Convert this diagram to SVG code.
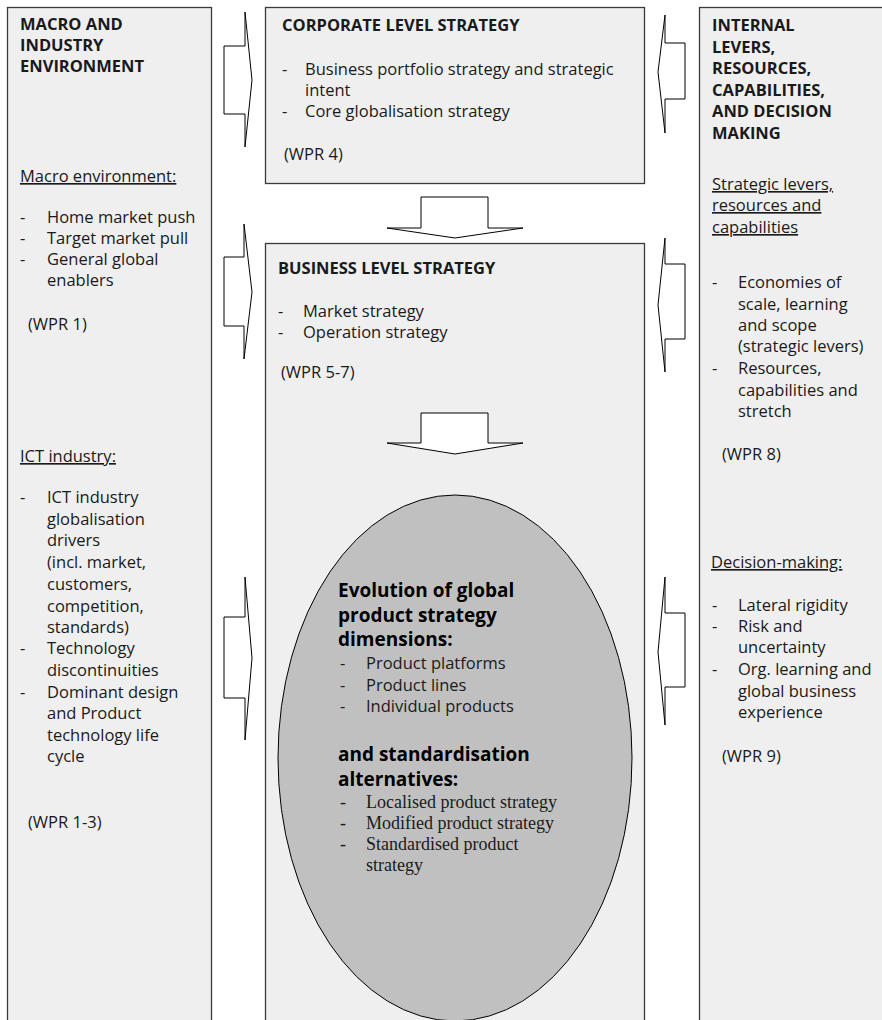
<svg xmlns="http://www.w3.org/2000/svg" width="882" height="1020" viewBox="0 0 882 1020">
  <style>
    .box { fill: #efefef; stroke: #3a3a3a; stroke-width: 1.3; }
    .oval { fill: #c0c0c0; stroke: #000; stroke-width: 1; }
    .arrow { fill: #fff; stroke: #000; stroke-width: 1; stroke-linejoin: miter; }
    text { font-family: "Open Sans", "Liberation Sans", sans-serif; font-size: 16.5px; fill: #1a1a1a; }
    .b { font-weight: bold; }
    .u { text-decoration: underline; }
    .big { font-size: 19px; font-weight: bold; fill: #000; }
    .serif { font-family: "Liberation Serif", "Times New Roman", serif; font-size: 18px; }
  </style>

  <rect width="882" height="1020" fill="#fff"/>

  <!-- Left column: macro and industry environment -->
  <g id="macro-industry">
    <rect class="box" x="7.5" y="7.5" width="204" height="1030"/>
    <text class="b" x="20" y="30">MACRO AND</text>
    <text class="b" x="20" y="51">INDUSTRY</text>
    <text class="b" x="20" y="72">ENVIRONMENT</text>
    <text class="u" x="20" y="182">Macro environment:</text>
    <text x="20" y="223">-</text><text x="47" y="223">Home market push</text>
    <text x="20" y="244">-</text><text x="47" y="244">Target market pull</text>
    <text x="20" y="265">-</text><text x="47" y="265">General global</text>
    <text x="47" y="286">enablers</text>
    <text x="28" y="330">(WPR 1)</text>
    <text class="u" x="20" y="462">ICT industry:</text>
    <text x="20" y="503">-</text><text x="47" y="503">ICT industry</text>
    <text x="47" y="525">globalisation</text>
    <text x="47" y="546">drivers</text>
    <text x="47" y="568">(incl. market,</text>
    <text x="47" y="590">customers,</text>
    <text x="47" y="612">competition,</text>
    <text x="47" y="633">standards)</text>
    <text x="20" y="654">-</text><text x="47" y="654">Technology</text>
    <text x="47" y="676">discontinuities</text>
    <text x="20" y="698">-</text><text x="47" y="698">Dominant design</text>
    <text x="47" y="719">and Product</text>
    <text x="47" y="741">technology life</text>
    <text x="47" y="762">cycle</text>
    <text x="28" y="828">(WPR 1-3)</text>
  </g>

  <!-- Corporate level strategy -->
  <g id="corporate-strategy">
    <rect class="box" x="265.5" y="7.5" width="379" height="176"/>
    <text class="b" x="282" y="31">CORPORATE LEVEL STRATEGY</text>
    <text x="282" y="75">-</text><text x="305" y="75">Business portfolio strategy and strategic</text>
    <text x="305" y="96">intent</text>
    <text x="282" y="117">-</text><text x="305" y="117">Core globalisation strategy</text>
    <text x="284" y="160">(WPR 4)</text>
  </g>

  <!-- Business level strategy -->
  <g id="business-strategy">
    <rect class="box" x="265.5" y="243.5" width="379" height="800"/>
    <text class="b" x="278" y="274">BUSINESS LEVEL STRATEGY</text>
    <text x="278" y="317">-</text><text x="303" y="317">Market strategy</text>
    <text x="278" y="338">-</text><text x="303" y="338">Operation strategy</text>
    <text x="281" y="378">(WPR 5-7)</text>
  </g>

  <!-- Global product strategy oval -->
  <g id="product-strategy">
    <ellipse class="oval" cx="455" cy="758" rx="177" ry="263"/>
    <text class="big" x="338" y="597">Evolution of global</text>
    <text class="big" x="338" y="621.5">product strategy</text>
    <text class="big" x="338" y="645.5">dimensions:</text>
    <text x="340" y="669">-</text><text x="366" y="669">Product platforms</text>
    <text x="340" y="690.5">-</text><text x="366" y="690.5">Product lines</text>
    <text x="340" y="712">-</text><text x="366" y="712">Individual products</text>
    <text class="big" x="338" y="761">and standardisation</text>
    <text class="big" x="338" y="785.5">alternatives:</text>
    <text class="serif" x="340" y="808">-</text><text class="serif" x="366" y="808">Localised product strategy</text>
    <text class="serif" x="340" y="829">-</text><text class="serif" x="366" y="829">Modified product strategy</text>
    <text class="serif" x="340" y="850">-</text><text class="serif" x="366" y="850">Standardised product</text>
    <text class="serif" x="366" y="871">strategy</text>
  </g>

  <!-- Right column: internal levers, resources, capabilities, decision making -->
  <g id="internal-levers">
    <rect class="box" x="699.5" y="7.5" width="200" height="1030"/>
    <text class="b" x="712" y="31">INTERNAL</text>
    <text class="b" x="712" y="52.5">LEVERS,</text>
    <text class="b" x="712" y="74">RESOURCES,</text>
    <text class="b" x="712" y="95.5">CAPABILITIES,</text>
    <text class="b" x="712" y="117">AND DECISION</text>
    <text class="b" x="712" y="138.5">MAKING</text>
    <text class="u" x="712" y="190">Strategic levers,</text>
    <text class="u" x="712" y="211">resources and</text>
    <text class="u" x="712" y="233">capabilities</text>
    <text x="712" y="288">-</text><text x="738" y="288">Economies of</text>
    <text x="738" y="310">scale, learning</text>
    <text x="738" y="331">and scope</text>
    <text x="738" y="352">(strategic levers)</text>
    <text x="712" y="374">-</text><text x="738" y="374">Resources,</text>
    <text x="738" y="396">capabilities and</text>
    <text x="738" y="417">stretch</text>
    <text x="722" y="460">(WPR 8)</text>
    <text class="u" x="711" y="568">Decision-making:</text>
    <text x="712" y="611">-</text><text x="738" y="611">Lateral rigidity</text>
    <text x="712" y="632">-</text><text x="738" y="632">Risk and</text>
    <text x="738" y="653">uncertainty</text>
    <text x="712" y="675">-</text><text x="738" y="675">Org. learning and</text>
    <text x="738" y="697">global business</text>
    <text x="738" y="718">experience</text>
    <text x="722" y="762">(WPR 9)</text>
  </g>

  <!-- Block arrows between the columns -->
  <g id="connectors">
    <polygon class="arrow" points="224,46 245,46 245,12 252,80 245,147 245,114 224,114"/>
    <polygon class="arrow" points="224,257 244,257 244,224 252,292 244,359 244,326 224,326"/>
    <polygon class="arrow" points="224,617 245,617 245,577 252,658 245,740 245,698 224,698"/>
    <polygon class="arrow" points="685,43 665,43 665,15 658,72 665,133 665,99 685,99"/>
    <polygon class="arrow" points="685,264 665,264 665,238 658,305 665,372 665,339 685,339"/>
    <polygon class="arrow" points="685,613 665,613 665,577 658,652 665,725 665,687 685,687"/>
    <polygon class="arrow" points="421,197 488,197 488,228 523,228 455,238 387,228 421,228"/>
    <polygon class="arrow" points="421,413 488,413 488,443 523,443 455,454 387,443 421,443"/>
  </g>
</svg>
